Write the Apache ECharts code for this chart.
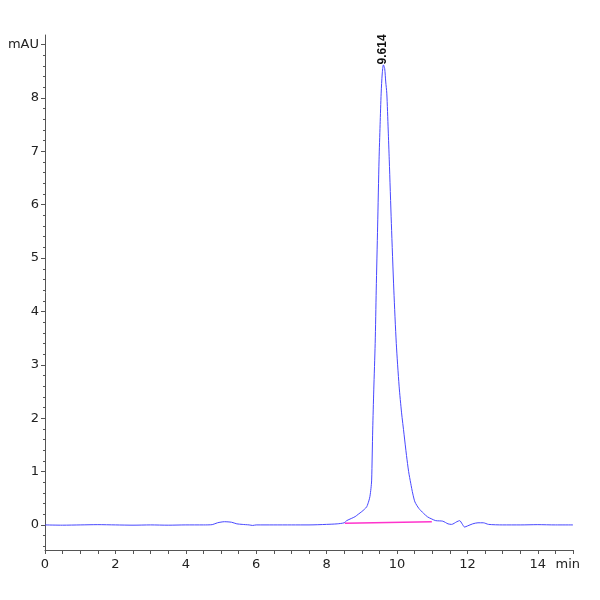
<!DOCTYPE html>
<html>
<head>
<meta charset="utf-8">
<script src="https://cdn.jsdelivr.net/npm/echarts@6/dist/echarts.min.js"></script>
<style>
  html, body { margin: 0; padding: 0; background: #fff; }
  #chart { width: 600px; height: 600px; }
</style>
</head>
<body>
<div id="chart"></div>
<script>
// retention time (min) and absorbance (mAU)
const times = [0, 0.5, 1, 1.5, 2, 2.5, 3, 3.5, 4, 4.5, 4.75, 4.9, 5.1, 5.3, 5.45, 5.6, 5.8, 5.9, 6, 6.5, 7, 7.5, 8, 8.3, 8.5, 8.57, 8.7, 8.81, 8.9, 9.0, 9.07, 9.14, 9.2, 9.23, 9.26, 9.28, 9.31, 9.34, 9.38, 9.41, 9.45, 9.49, 9.52, 9.55, 9.58, 9.614, 9.65, 9.68, 9.71, 9.75, 9.78, 9.84, 9.91, 9.98, 10.06, 10.13, 10.2, 10.27, 10.33, 10.39, 10.45, 10.51, 10.62, 10.75, 10.87, 10.99, 11.1, 11.3, 11.45, 11.55, 11.7, 11.78, 11.85, 11.92, 12.0, 12.15, 12.3, 12.45, 12.6, 13, 13.5, 14, 14.5, 15];
const signal = [0, -0.005, 0, 0.005, 0, -0.005, 0, -0.005, 0, 0, 0.005, 0.04, 0.06, 0.05, 0.02, 0.01, 0, -0.01, 0, 0, 0, 0, 0.01, 0.02, 0.04, 0.08, 0.12, 0.155, 0.2, 0.25, 0.29, 0.34, 0.45, 0.53, 0.68, 0.84, 1.78, 2.53, 3.4, 4.4, 5.6, 6.84, 7.5, 8.09, 8.45, 8.62, 8.55, 8.3, 8.09, 7.4, 6.84, 5.65, 4.4, 3.4, 2.6, 2.1, 1.7, 1.3, 1.0, 0.78, 0.58, 0.43, 0.31, 0.22, 0.15, 0.11, 0.08, 0.07, 0.02, 0.01, 0.06, 0.08, 0.02, -0.04, -0.02, 0.02, 0.04, 0.04, 0.01, 0, 0, 0.005, 0, 0];

// integration baseline under the peak
const baseTimes = [8.52, 10.99];
const baseValues = [0.03, 0.06];

const peakTime = 9.614;
const peakValue = 8.62;

const xTicks = [0, 0.5, 1, 1.5, 2, 2.5, 3, 3.5, 4, 4.5, 5, 5.5, 6, 6.5, 7, 7.5, 8, 8.5, 9, 9.5, 10, 10.5, 11, 11.5, 12, 12.5, 13, 13.5, 14, 14.5, 15];
const xLabels = [0, 2, 4, 6, 8, 10, 12, 14, 14.85];
const yLabels = [0, 1, 2, 3, 4, 5, 6, 7, 8, 9];
const yMinor = [-0.4, -0.2, 0, 0.2, 0.4, 0.6, 0.8, 1, 1.2, 1.4, 1.6, 1.8, 2, 2.2, 2.4, 2.6, 2.8, 3, 3.2, 3.4, 3.6, 3.8, 4, 4.2, 4.4, 4.6, 4.8, 5, 5.2, 5.4, 5.6, 5.8, 6, 6.2, 6.4, 6.6, 6.8, 7, 7.2, 7.4, 7.6, 7.8, 8, 8.2, 8.4, 8.6, 8.8, 9];

const labelFont = {
  color: '#222',
  fontFamily: '"DejaVu Sans", sans-serif',
  fontSize: 13
};

const chart = echarts.init(document.getElementById('chart'));

const yRange = { min: -0.47, max: 9.18 };

chart.setOption({
  backgroundColor: '#fff',
  animation: false,
  grid: { left: 45, right: 27, top: 35, bottom: 50 },
  xAxis: {
    type: 'value',
    min: 0,
    max: 15,
    splitLine: { show: false },
    axisLine: { onZero: false, lineStyle: { color: '#555', width: 1 } },
    axisTick: { customValues: xTicks, length: 4, lineStyle: { color: '#555' } },
    axisLabel: Object.assign({
      customValues: xLabels,
      margin: 8,
      formatter: v => (v > 14.5 ? 'min' : String(v))
    }, labelFont)
  },
  yAxis: [{
    type: 'value',
    min: yRange.min,
    max: yRange.max,
    splitLine: { show: false },
    axisLine: { show: true, onZero: false, lineStyle: { color: '#555', width: 1 } },
    axisTick: { show: true, customValues: yLabels, length: 4, lineStyle: { color: '#555' } },
    axisLabel: Object.assign({
      customValues: yLabels,
      margin: 6,
      formatter: v => (v === 9 ? 'mAU' : String(v))
    }, labelFont)
  }, {
    type: 'value',
    position: 'left',
    min: yRange.min,
    max: yRange.max,
    splitLine: { show: false },
    axisLine: { show: false },
    axisTick: { show: true, customValues: yMinor, length: 2, lineStyle: { color: '#555' } },
    axisLabel: { show: false }
  }],
  series: [{
    type: 'line',
    name: 'signal',
    data: times.map((t, i) => [t, signal[i]]),
    smooth: 0.25,
    symbol: 'none',
    lineStyle: { color: '#4848ff', width: 1 },
    markPoint: {
      symbol: 'circle',
      symbolSize: 1,
      itemStyle: { color: 'rgba(0,0,0,0)' },
      data: [{ coord: [peakTime, peakValue] }],
      label: {
        show: true,
        formatter: String(peakTime),
        position: [0, 0],
        rotate: 90,
        align: 'left',
        verticalAlign: 'middle',
        color: '#111',
        fontWeight: 'bold',
        fontFamily: 'Arial, "Liberation Sans", sans-serif',
        fontSize: 12
      }
    }
  }, {
    type: 'line',
    name: 'baseline',
    data: baseTimes.map((t, i) => [t, baseValues[i]]),
    symbol: 'none',
    lineStyle: { color: '#ff33cc', width: 1.5 }
  }]
});
</script>
</body>
</html>
